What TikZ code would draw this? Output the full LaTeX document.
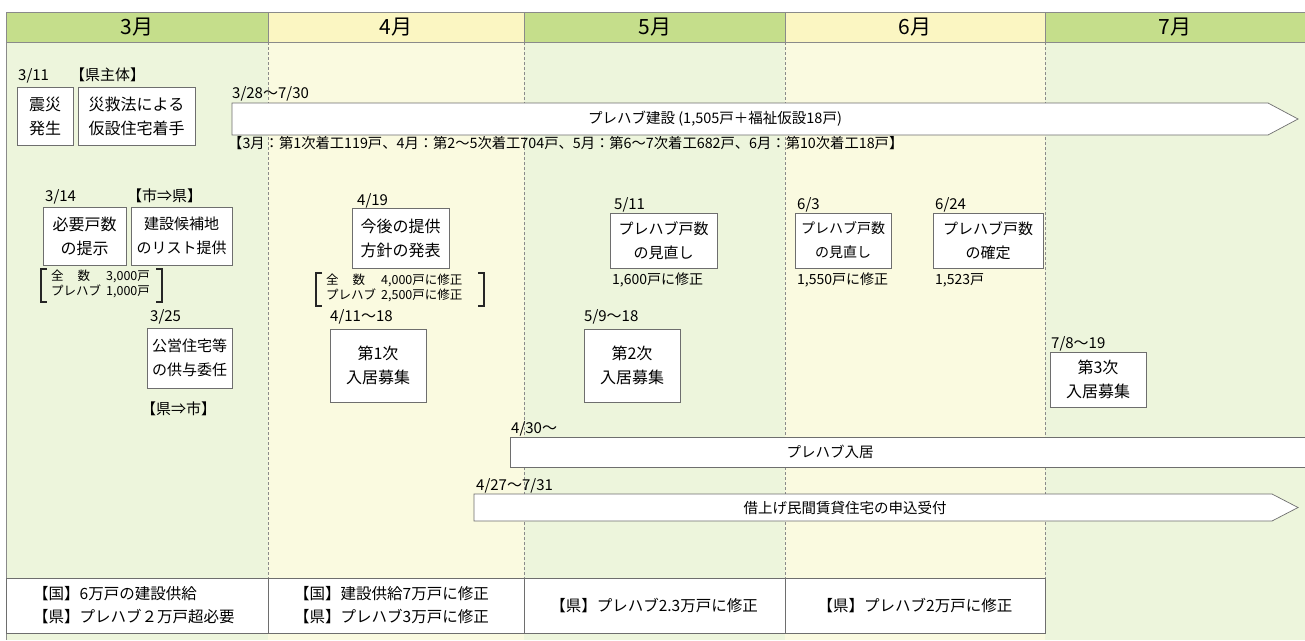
\documentclass[tikz,border=0pt]{standalone}
\usepackage{fontspec}
\setmainfont{Noto Sans CJK JP}
\definecolor{hdG}{HTML}{C5DE8B}
\definecolor{hdY}{HTML}{FBF6C2}
\definecolor{bgG}{HTML}{EDF5DC}
\definecolor{bgY}{HTML}{FAFAE0}
\definecolor{lineg}{HTML}{8A8A8A}
\definecolor{boxg}{HTML}{6E6E6E}
\begin{document}
\begin{tikzpicture}[x=1pt,y=-1pt,
  box/.style={draw=boxg, fill=white, line width=0.7pt, inner sep=0pt, align=center,
    font=\fontsize{16}{24}\selectfont},
  pbox/.style={box, font=\fontsize{15}{24}\selectfont},
  datelbl/.style={anchor=base west, inner sep=0pt, font=\fontsize{15}{15}\selectfont},
  note/.style={anchor=base west, inner sep=0pt, font=\fontsize{14}{14}\selectfont},
  hdr/.style={inner sep=0pt, font=\fontsize{21}{21}\selectfont},
  arrtxt/.style={inner sep=0pt, font=\fontsize{14.5}{14.5}\selectfont},
  brk/.style={anchor=north west, inner sep=0pt, font=\fontsize{12.5}{15}\selectfont},
  brkline/.style={line width=1.8pt, black!85},
  arrline/.style={draw=boxg, fill=white, line width=0.7pt},
  bottxt/.style={inner sep=0pt, align=left, font=\fontsize{15.5}{23}\selectfont},
  dashv/.style={lineg, dashed, dash pattern=on 3pt off 2pt, line width=0.6pt}
]
\useasboundingbox (0,0) rectangle (1305,640);
% body backgrounds
\fill[bgG] (6,42) rectangle (268,640);
\fill[bgY] (268,42) rectangle (524,640);
\fill[bgG] (524,42) rectangle (785,640);
\fill[bgY] (785,42) rectangle (1045,640);
\fill[bgG] (1045,42) rectangle (1305,640);
% header
\fill[hdG] (6,12) rectangle (268,42);
\fill[hdY] (268,12) rectangle (524,42);
\fill[hdG] (524,12) rectangle (785,42);
\fill[hdY] (785,12) rectangle (1045,42);
\fill[hdG] (1045,12) rectangle (1305,42);
\draw[lineg, line width=0.7pt] (6,12) -- (1305,12);
\draw[lineg, line width=0.7pt] (6,42) -- (1305,42);
\draw[lineg, line width=0.7pt] (6,12) -- (6,640);
\foreach \x in {268,524,785,1045} {
  \draw[lineg, line width=0.5pt] (\x,12) -- (\x,42);
  \draw[dashv] (\x,42) -- (\x,578);
}
\node[hdr] (m3) at (137,27) {3月};
\node[hdr] (m4) at (396,27) {4月};
\node[hdr] (m5) at (655,27) {5月};
\node[hdr] (m6) at (915,27) {6月};
\node[hdr] (m7) at (1175,27) {7月};

% 3/11
\node[datelbl] (d311) at (18,80) {3/11};
\node[datelbl] (k1) at (70,80) {【県主体】};
\node[box, minimum width=56pt, minimum height=58pt] (b1) at (45,116) {震災\\発生};
\node[box, minimum width=117pt, minimum height=58pt] (b2) at (136.5,116) {災救法による\\仮設住宅着手};

% prefab construction arrow
\node[datelbl] (d328) at (232,98) {3/28〜7/30};
\draw[arrline] (232,103) coordinate (a1s) -- (1268,103) -- (1298,119) coordinate (a1t) -- (1268,135) -- (232,135) -- cycle;
\node[arrtxt] (a1) at (715,119) {プレハブ建設 (1,505戸＋福祉仮設18戸)};
\node[datelbl, font=\fontsize{14.3}{14.3}\selectfont] (a1n) at (228,148) {【3月：第1次着工119戸、4月：第2〜5次着工704戸、5月：第6〜7次着工682戸、6月：第10次着工18戸】};

% 3/14
\node[datelbl] (d314) at (45,201) {3/14};
\node[datelbl] (k2) at (127,201) {【市⇒県】};
\node[box, minimum width=83pt, minimum height=58pt] (b3) at (84.5,236) {必要戸数\\の提示};
\node[pbox, minimum width=101pt, minimum height=58pt] (b4) at (181.5,236) {建設候補地\\のリスト提供};
\draw[brkline] (47,269) -- (41,269) -- (41,302) -- (47,302);
\draw[brkline] (156,269) -- (162,269) -- (162,302) -- (156,302);
\node[brk] (n1) at (51,270) {\begin{tabular}{@{}l@{\hspace{5pt}}l@{}}全\hspace{14pt}数 & 3,000戸\\ プレハブ & 1,000戸\end{tabular}};

% 4/19
\node[datelbl] (d419) at (357,205) {4/19};
\node[box, minimum width=97pt, minimum height=60pt] (b5) at (400.5,238) {今後の提供\\方針の発表};
\draw[brkline] (322,273) -- (316,273) -- (316,306) -- (322,306);
\draw[brkline] (478,273) -- (484,273) -- (484,306) -- (478,306);
\node[brk] (n2) at (326,274) {\begin{tabular}{@{}l@{\hspace{5pt}}l@{}}全\hspace{14pt}数 & 4,000戸に修正\\ プレハブ & 2,500戸に修正\end{tabular}};

% 5/11
\node[datelbl] (d511) at (614,209) {5/11};
\node[pbox, minimum width=107pt, minimum height=55pt] (b6) at (663.5,240.5) {プレハブ戸数\\の見直し};
\node[note] (n3) at (612,284) {1,600戸に修正};
% 6/3
\node[datelbl] (d63) at (797,209) {6/3};
\node[pbox, font=\fontsize{14}{24}\selectfont, minimum width=96pt, minimum height=55pt] (b7) at (843,240.5) {プレハブ戸数\\の見直し};
\node[note] (n4) at (797,284) {1,550戸に修正};
% 6/24
\node[datelbl] (d624) at (935,209) {6/24};
\node[pbox, minimum width=110pt, minimum height=55pt] (b8) at (988,240.5) {プレハブ戸数\\の確定};
\node[note] (n5) at (935,284) {1,523戸};

% 3/25
\node[datelbl] (d325) at (150,321) {3/25};
\node[pbox, minimum width=85pt, minimum height=60pt] (b9) at (189.5,358) {公営住宅等\\の供与委任};
\node[datelbl] (k3) at (141,414) {【県⇒市】};
% 4/11
\node[datelbl] (d411) at (330,321) {4/11〜18};
\node[box, minimum width=96pt, minimum height=73pt] (b10) at (378,365.5) {第1次\\入居募集};
% 5/9
\node[datelbl] (d59) at (584,321) {5/9〜18};
\node[box, minimum width=96pt, minimum height=73pt] (b11) at (632,365.5) {第2次\\入居募集};
% 7/8
\node[datelbl] (d78) at (1051,348) {7/8〜19};
\node[box, minimum width=96pt, minimum height=55pt] (b12) at (1098,379.5) {第3次\\入居募集};

% prefab move-in
\node[datelbl] (d430) at (511,433) {4/30〜};
\node[draw=boxg, fill=white, line width=0.7pt, minimum width=800pt, minimum height=30pt, inner sep=0pt] (r1) at (910,452) {};
\node[arrtxt] (r1t) at (830,452) {プレハブ入居};

% rented housing arrow
\node[datelbl] (d427) at (476,490) {4/27〜7/31};
\draw[arrline] (474,494) coordinate (a2s) -- (1272,494) -- (1298,507.5) coordinate (a2t) -- (1272,521) -- (474,521) -- cycle;
\node[arrtxt] (a2) at (845,507.5) {借上げ民間賃貸住宅の申込受付};

% bottom row
\draw[draw=boxg, fill=white, line width=0.7pt] (6,578) rectangle (1045,633);
\foreach \x in {268,524,785} \draw[boxg, line width=0.6pt] (\x,578) -- (\x,633);
\node[bottxt, anchor=west] (c1) at (33,605.5) {【国】6万戸の建設供給\\【県】プレハブ２万戸超必要};
\node[bottxt, anchor=west] (c2) at (294,605.5) {【国】建設供給7万戸に修正\\【県】プレハブ3万戸に修正};
\node[bottxt] (c3) at (654,605.5) {【県】プレハブ2.3万戸に修正};
\node[bottxt] (c4) at (915,605.5) {【県】プレハブ2万戸に修正};
\end{tikzpicture}
\end{document}
